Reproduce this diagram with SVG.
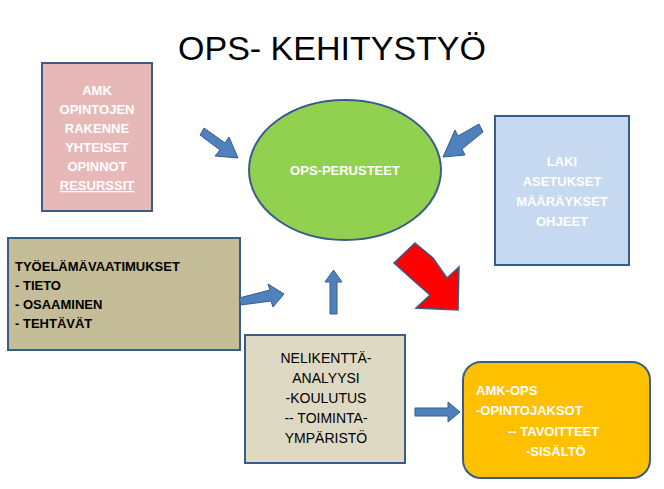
<svg xmlns="http://www.w3.org/2000/svg" width="664" height="489" viewBox="0 0 664 489">
<style>
text{font-family:"Liberation Sans",Arial,sans-serif;font-weight:bold;font-size:13px}
.w{fill:#fff}.k{fill:#000}
.box{stroke:#385D8A;stroke-width:2}
.arr{fill:#4F81BD;stroke:#385D8A;stroke-width:1}
</style>
<rect width="664" height="489" fill="#fff"/>
<text x="332" y="60" text-anchor="middle" style="font-size:34px;font-weight:normal" class="k">OPS- KEHITYSTYÖ</text>
<g id="amk"><rect class="box" x="42" y="63" width="110" height="148" fill="#E6B9B8"/>
<text class="w" text-anchor="middle"><tspan x="97" y="95">AMK</tspan><tspan x="97" y="114">OPINTOJEN</tspan><tspan x="97" y="133">RAKENNE</tspan><tspan x="97" y="152">YHTEISET</tspan><tspan x="97" y="171">OPINNOT</tspan><tspan x="97" y="190" text-decoration="underline">RESURSSIT</tspan></text></g>
<g id="ops"><ellipse class="box" cx="345" cy="170" rx="96" ry="70" fill="#92D050"/>
<text class="w" x="345" y="175" text-anchor="middle">OPS-PERUSTEET</text></g>
<g id="laki"><rect class="box" x="495" y="116" width="134" height="149" fill="#C6D9F1"/>
<text class="w" text-anchor="middle"><tspan x="562" y="166">LAKI</tspan><tspan x="562" y="186">ASETUKSET</tspan><tspan x="562" y="206">MÄÄRÄYKSET</tspan><tspan x="562" y="226">OHJEET</tspan></text></g>
<g id="tyo"><rect class="box" x="8" y="238" width="232" height="112" fill="#C4BD97"/>
<text class="k"><tspan x="15" y="271">TYÖELÄMÄVAATIMUKSET</tspan><tspan x="15" y="290">- TIETO</tspan><tspan x="15" y="309">- OSAAMINEN</tspan><tspan x="15" y="328">- TEHTÄVÄT</tspan></text></g>
<g id="neli"><rect class="box" x="245" y="335" width="160" height="128" fill="#DDD9C3"/>
<text class="k" text-anchor="middle" style="font-weight:normal;font-size:14px"><tspan x="326" y="363">NELIKENTTÄ-</tspan><tspan x="326" y="383">ANALYYSI</tspan><tspan x="326" y="403">-KOULUTUS</tspan><tspan x="326" y="423">-- TOIMINTA-</tspan><tspan x="326" y="443">YMPÄRISTÖ</tspan></text></g>
<g id="amkops"><rect class="box" x="463" y="362" width="187" height="116" rx="18" fill="#FFC000"/>
<text class="w"><tspan x="476" y="395">AMK-OPS</tspan><tspan x="476" y="415">-OPINTOJAKSOT</tspan><tspan x="508" y="436">-- TAVOITTEET</tspan><tspan x="526" y="456">-SISÄLTÖ</tspan></text></g>
<g id="connectors">
<polygon class="arr" points="200,135 204,128 225,143 229,137 238,158 215,156 220,150"/>
<polygon class="arr" points="483,132 479,124 458,136 455,130 443,157 465,155 462,149"/>
<polygon class="arr" points="241,305 239,298 270,290 268,284 284,294 273,307 271,301"/>
<polygon class="arr" points="330,314 337,314 337,282 342,282 333.5,270 325,282 330,282"/>
<polygon class="arr" points="415,408 415,416 448,416 448,422 460,412 448,402 448,408"/>
<polygon fill="#FF0000" stroke="#385D8A" stroke-width="1.5" points="415,243 433,258 447,278 459,267 458,310 416,308 430,295 414,281 394,263"/>
</g>
</svg>
